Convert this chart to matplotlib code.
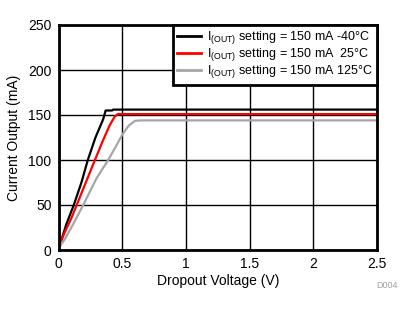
import matplotlib
matplotlib.use("Agg")
import matplotlib.pyplot as plt

plt.rcParams['font.family'] = ['Liberation Sans', 'DejaVu Sans']
plt.rcParams['mathtext.fontset'] = 'custom'
plt.rcParams['mathtext.rm'] = 'Liberation Sans'
plt.rcParams['mathtext.it'] = 'Liberation Sans'

# dropout voltage (V) vs output current (mA)
v_cold = [0.0, 0.016, 0.06, 0.12, 0.18, 0.23, 0.29, 0.35, 0.37, 0.42, 0.43, 2.5]
i_cold = [4, 8, 28, 50, 75, 100, 125, 145, 155, 155, 156, 156]

v_room = [0.0, 0.05, 0.10, 0.143, 0.2, 0.286, 0.35, 0.40, 0.44, 0.465, 2.5]
i_room = [3, 20, 35, 50, 70, 100, 122, 138, 148, 151, 151]

v_hot = [0.0, 0.05, 0.12, 0.194, 0.3, 0.39, 0.45, 0.5, 0.55, 0.6, 0.65, 2.5]
i_hot = [2, 12, 30, 50, 80, 100, 115, 128, 138, 143.5, 144, 144]

labels = ['I$_{(OUT)}$ setting = 150 mA -40°C',
          'I$_{(OUT)}$ setting = 150 mA  25°C',
          'I$_{(OUT)}$ setting = 150 mA 125°C']
colors = ['black', 'red', '#a6a6a6']

fig = plt.figure(figsize=(4.15, 3.12), dpi=100)
ax = fig.add_axes([58.5 / 415, 1 - 250 / 312, (377 - 58.5) / 415, (250 - 25) / 312])

for v, i, c, lab in zip([v_cold, v_room, v_hot], [i_cold, i_room, i_hot], colors, labels):
    ax.plot(v, i, color=c, lw=1.6, label=lab)

ax.set_xlim(0, 2.5)
ax.set_ylim(0, 250)
ax.set_xticks([0, 0.5, 1, 1.5, 2, 2.5])
ax.set_xticklabels(['0', '0.5', '1', '1.5', '2', '2.5'])
ax.set_yticks([0, 50, 100, 150, 200, 250])
ax.grid(True, color='black', lw=1)
ax.set_axisbelow(True)
for s in ax.spines.values():
    s.set_linewidth(2)
ax.tick_params(length=0, labelsize=10, pad=5)
ax.set_xlabel('Dropout Voltage (V)', fontsize=10, labelpad=2)
ax.set_ylabel('Current Output (mA)', fontsize=10, labelpad=5)

leg = ax.legend(loc='upper right', fontsize=9, fancybox=False, framealpha=1,
                borderaxespad=0, handlelength=1.9, labelspacing=0.0,
                borderpad=0.35, handletextpad=0.5)
leg.get_frame().set_edgecolor('black')
leg.get_frame().set_linewidth(2)
for h in leg.get_lines():
    h.set_linewidth(2)

fig.text(398 / 415, 1 - 286 / 312, 'D004', fontsize=6.5, color='#a0a0a0', ha='right', va='center')

fig.savefig('out.png', dpi=100)
